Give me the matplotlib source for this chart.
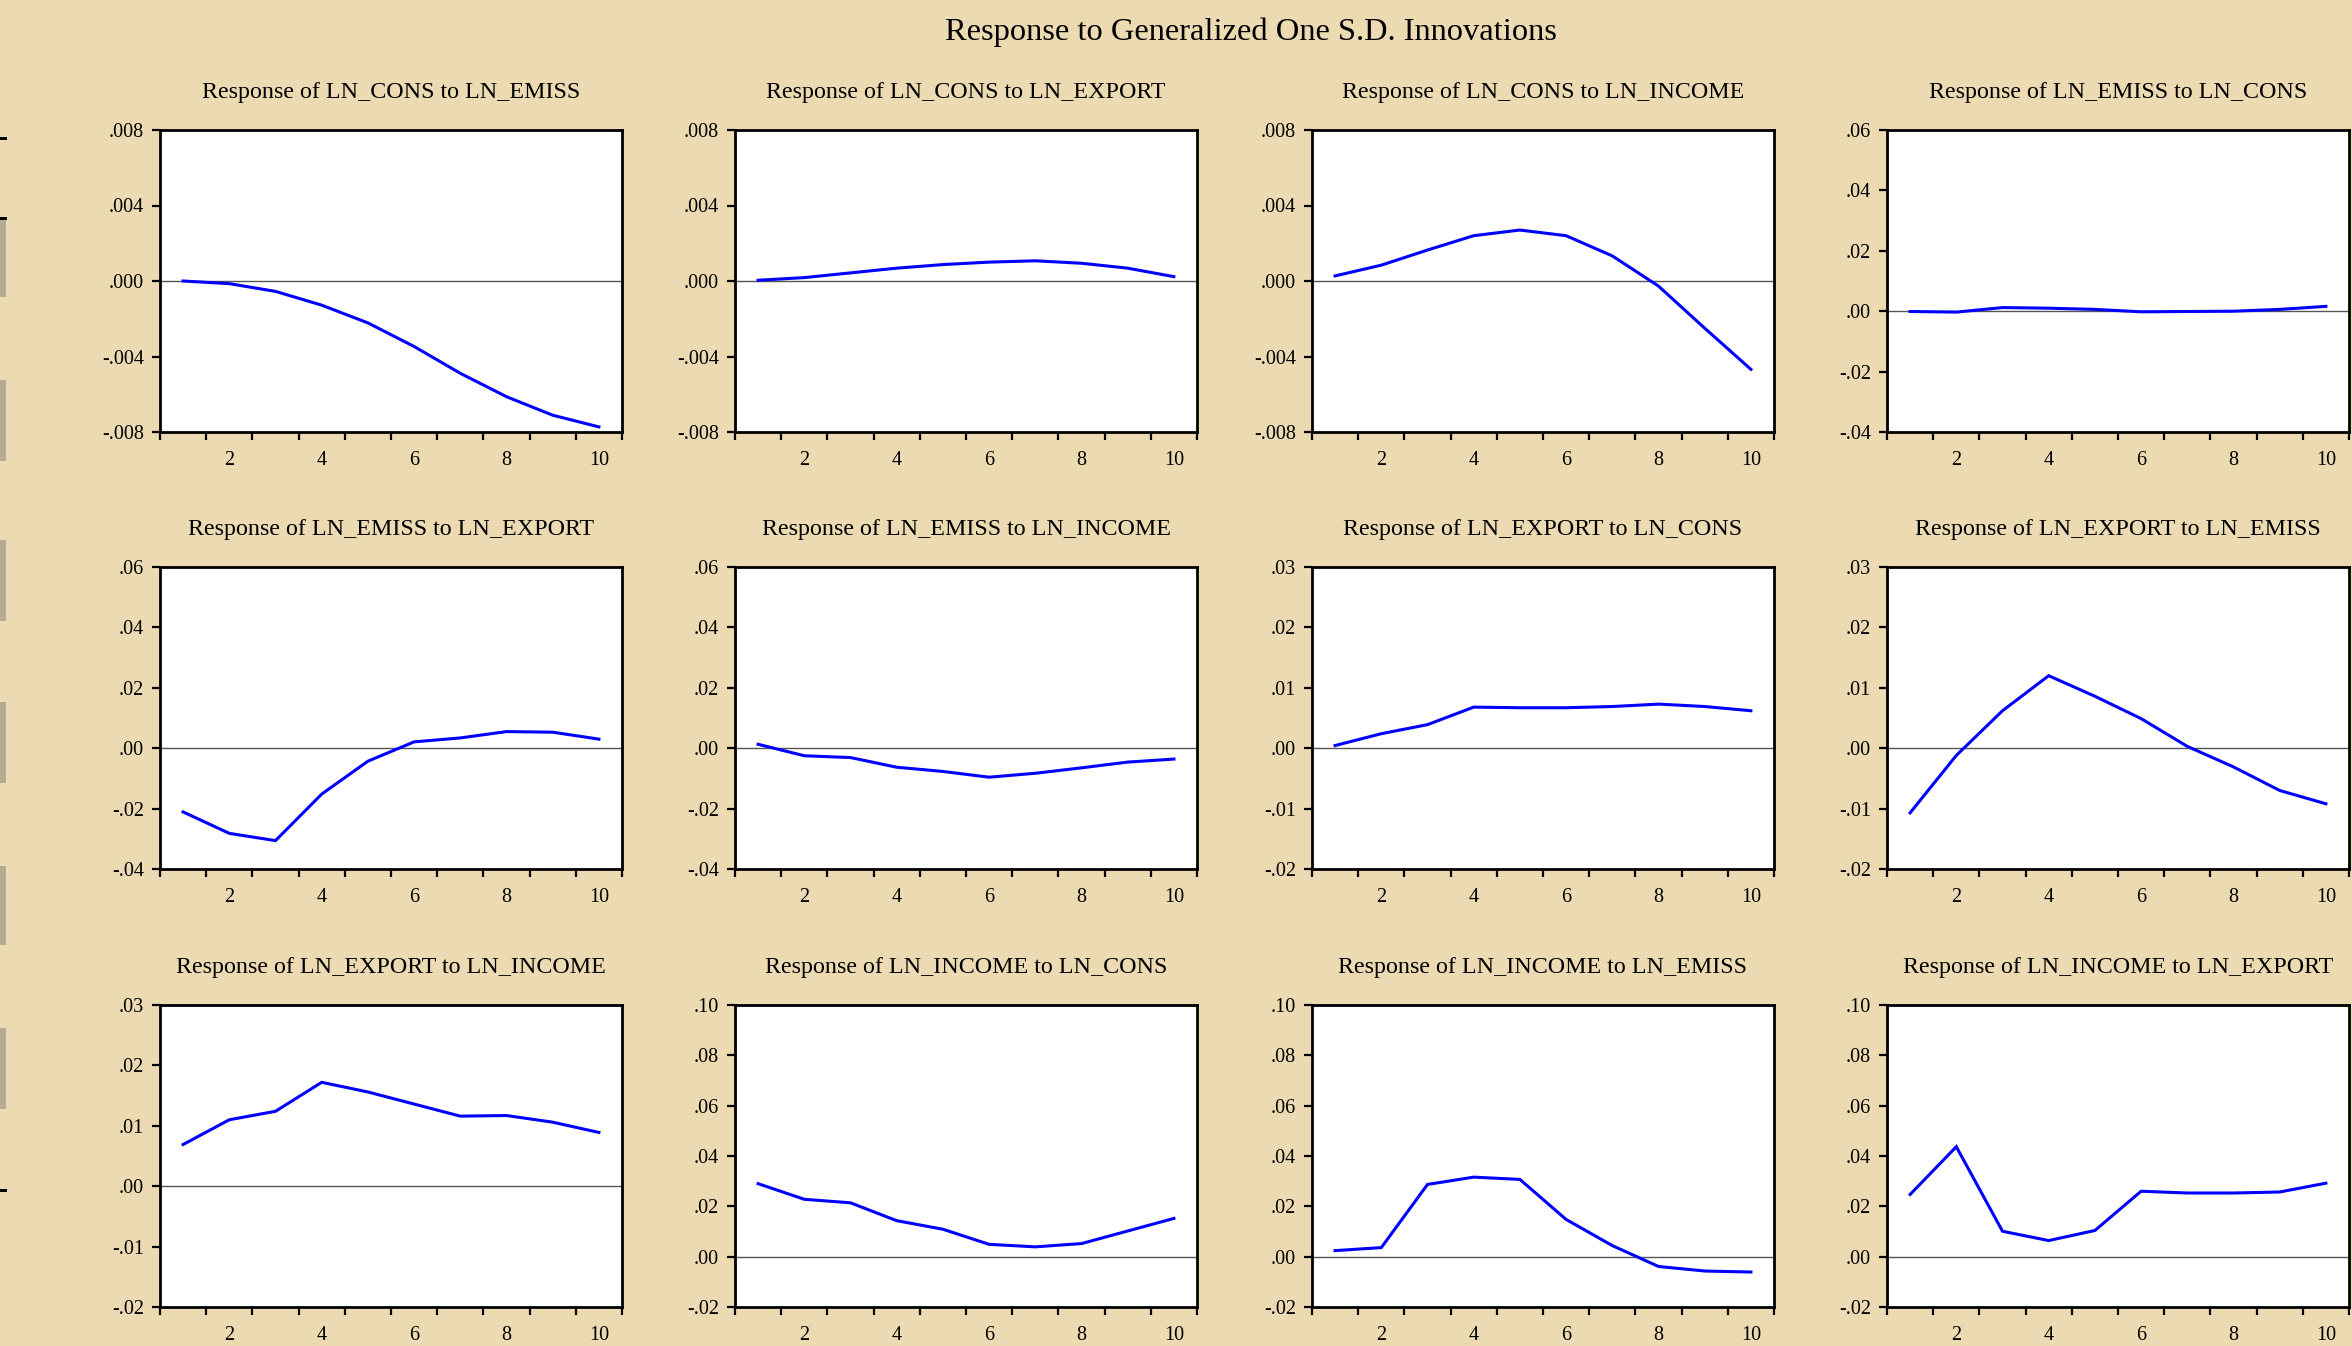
import matplotlib
matplotlib.use("Agg")
import matplotlib.pyplot as plt
from matplotlib.patches import Rectangle
import numpy as np

plt.rcParams['font.family'] = ['Liberation Serif', 'DejaVu Serif']

# Impulse-response values, periods 1..10
periods = list(range(1, 11))

titles = [
    "Response of LN_CONS to LN_EMISS",
    "Response of LN_CONS to LN_EXPORT",
    "Response of LN_CONS to LN_INCOME",
    "Response of LN_EMISS to LN_CONS",
    "Response of LN_EMISS to LN_EXPORT",
    "Response of LN_EMISS to LN_INCOME",
    "Response of LN_EXPORT to LN_CONS",
    "Response of LN_EXPORT to LN_EMISS",
    "Response of LN_EXPORT to LN_INCOME",
    "Response of LN_INCOME to LN_CONS",
    "Response of LN_INCOME to LN_EMISS",
    "Response of LN_INCOME to LN_EXPORT",
]

cons_emiss = [0.0, -0.00014, -0.00055, -0.00128, -0.00222, -0.00347, -0.00489, -0.00613, -0.00711, -0.00773]
cons_export = [0.00004, 0.00018, 0.00043, 0.00068, 0.00087, 0.0010, 0.00107, 0.00094, 0.00068, 0.00023]
cons_income = [0.00027, 0.00084, 0.00164, 0.0024, 0.0027, 0.0024, 0.00133, -0.00027, -0.0025, -0.00468]
emiss_cons = [-0.0001, -0.0003, 0.0012, 0.0010, 0.0006, -0.0002, -0.0001, 0.0, 0.0006, 0.0016]
emiss_export = [-0.0211, -0.0282, -0.0306, -0.0152, -0.0043, 0.0021, 0.0034, 0.0055, 0.0053, 0.0030]
emiss_income = [0.0013, -0.0025, -0.0031, -0.0063, -0.0077, -0.0096, -0.0083, -0.0065, -0.0046, -0.0036]
export_cons = [0.00044, 0.0024, 0.0039, 0.0068, 0.0067, 0.0067, 0.0069, 0.0073, 0.0069, 0.0062]
export_emiss = [-0.0107, -0.0012, 0.0062, 0.0120, 0.0086, 0.0049, 0.0003, -0.0031, -0.0070, -0.0092]
export_income = [0.0069, 0.0110, 0.0124, 0.0172, 0.0156, 0.0136, 0.0116, 0.0117, 0.0106, 0.0089]
income_cons = [0.0290, 0.0228, 0.0214, 0.0143, 0.0109, 0.0049, 0.0039, 0.0052, 0.0102, 0.0152]
income_emiss = [0.0024, 0.0036, 0.0287, 0.0316, 0.0307, 0.0148, 0.0044, -0.0039, -0.0057, -0.0061]
income_export = [0.0247, 0.0437, 0.0101, 0.0064, 0.0104, 0.0260, 0.0253, 0.0253, 0.0257, 0.0292]

series = [cons_emiss, cons_export, cons_income, emiss_cons, emiss_export, emiss_income,
          export_cons, export_emiss, export_income, income_cons, income_emiss, income_export]

# y-axis ticks for each panel and the decimals shown in their labels
yticks_small = [-0.008, -0.004, 0.0, 0.004, 0.008]
yticks_emiss = [-0.04, -0.02, 0.0, 0.02, 0.04, 0.06]
yticks_export = [-0.02, -0.01, 0.0, 0.01, 0.02, 0.03]
yticks_income = [-0.02, 0.0, 0.02, 0.04, 0.06, 0.08, 0.10]
panel_yticks = [yticks_small, yticks_small, yticks_small,
                yticks_emiss, yticks_emiss, yticks_emiss,
                yticks_export, yticks_export, yticks_export,
                yticks_income, yticks_income, yticks_income]
panel_decimals = [3, 3, 3, 2, 2, 2, 2, 2, 2, 2, 2, 2]

xlabels = [2, 4, 6, 8, 10]


def eviews_fmt(v, dec):
    s = f"{v:.{dec}f}"
    return s.replace("0.", ".", 1) if s.lstrip("-").startswith("0.") else s


W, H = 2352, 1346
fig = plt.figure(figsize=(W / 100, H / 100), dpi=100)
fig.patch.set_facecolor('#ECDBB2')

# window-frame remnants along the left edge
for y0, y1 in [(218, 297), (380, 461), (540, 621), (702, 783), (866, 945), (1028, 1109)]:
    fig.patches.append(Rectangle((0, 1 - y1 / H), 6 / W, (y1 - y0) / H,
                                 transform=fig.transFigure, facecolor='#B5AC93',
                                 edgecolor='none', zorder=0))
for yd in [138, 218, 1190]:
    fig.patches.append(Rectangle((0, 1 - (yd + 1.5) / H), 7 / W, 3 / H,
                                 transform=fig.transFigure, facecolor='black',
                                 edgecolor='none', zorder=0))

fig.text(1251 / W, 1 - 32 / H, "Response to Generalized One S.D. Innovations",
         ha='center', va='center', fontsize=23.4, color='black')

col_left = [160, 735, 1312, 1887]
row_top = [130, 567, 1005]
ax_w, ax_h = 462, 302

for i, (title, vals) in enumerate(zip(titles, series)):
    r, c = divmod(i, 4)
    l = col_left[c]
    t = row_top[r]
    ax = fig.add_axes([l / W, 1 - (t + ax_h) / H, ax_w / W, ax_h / H])
    ax.set_facecolor('white')
    ax.plot(periods, vals, color='#0000FF', lw=2.2, solid_joinstyle='miter')
    ax.axhline(0, color='#555555', lw=1.0, zorder=1)

    yt = panel_yticks[i]
    ax.set_ylim(yt[0], yt[-1])
    ax.set_yticks(yt)
    ax.set_yticklabels([eviews_fmt(v, panel_decimals[i]) for v in yt])

    ax.set_xlim(0.5, 10.5)
    ax.set_xticks(np.arange(0.5, 11, 1.0))
    ax.set_xticklabels([])
    ax.set_xticks(xlabels, minor=True)
    ax.set_xticklabels([str(v) for v in xlabels], minor=True)
    ax.tick_params(axis='x', which='minor', length=0, pad=14, labelsize=14.5)
    ax.tick_params(axis='x', which='major', direction='out', length=6, width=1.6)
    ax.tick_params(axis='y', direction='out', length=5.5, width=1.6, labelsize=14.5, pad=6)

    for sp in ax.spines.values():
        sp.set_linewidth(2.0)
        sp.set_color('black')

    ax.set_title(title, fontsize=17.3, pad=23)

fig.savefig("out.png", dpi=100, facecolor=fig.get_facecolor())
